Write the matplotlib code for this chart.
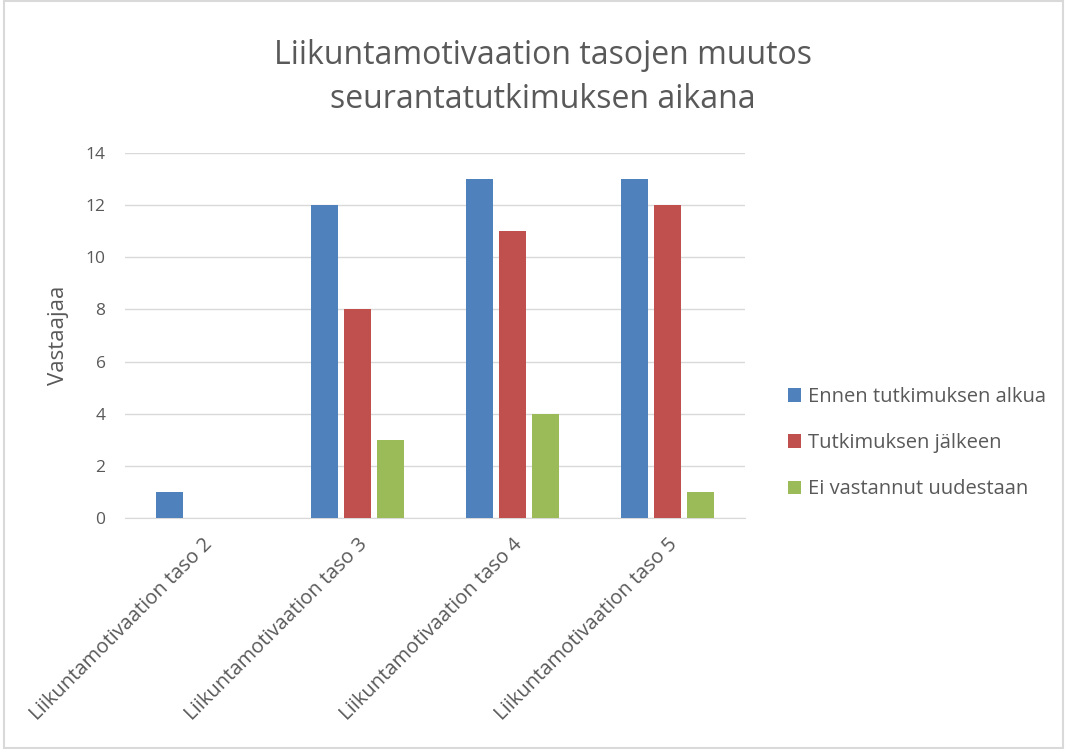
import matplotlib
matplotlib.use("Agg")
import matplotlib.pyplot as plt
import numpy as np
from matplotlib.patches import Rectangle

categories = ["Liikuntamotivaation taso 2", "Liikuntamotivaation taso 3",
              "Liikuntamotivaation taso 4", "Liikuntamotivaation taso 5"]
series_names = ["Ennen tutkimuksen alkua", "Tutkimuksen jälkeen", "Ei vastannut uudestaan"]
before = [1, 12, 13, 13]
after = [0, 8, 11, 12]
no_answer = [0, 3, 4, 1]
colors = ["#4F81BD", "#C0504D", "#9BBB59"]
yticks = [0, 2, 4, 6, 8, 10, 12, 14]

plt.rcParams['font.family'] = ['Open Sans', 'DejaVu Sans']
fig = plt.figure(figsize=(10.65, 7.49), dpi=100)
fig.patches.append(Rectangle((0.004, 0.002), 0.994, 0.996, transform=fig.transFigure,
                             fill=False, edgecolor="#D9D9D9", linewidth=1.5))
ax = fig.add_axes([0.1174, 0.3084, 0.582, 0.4873])

x = np.arange(len(categories))
w = 0.175
step = 0.215
for i, (vals, name, c) in enumerate(zip([before, after, no_answer], series_names, colors)):
    ax.bar(x + (i - 1) * step, vals, width=w, color=c, label=name, zorder=3)

ax.set_xlim(-0.5, len(categories) - 0.5)
ax.set_ylim(0, 14)
ax.set_yticks(yticks)
ax.grid(axis='y', color="#D9D9D9", linewidth=1, zorder=0)
for s in ["top", "right", "left"]:
    ax.spines[s].set_visible(False)
ax.spines["bottom"].set_color("#D9D9D9")
ax.tick_params(axis='both', length=0, labelcolor="#595959")
ax.tick_params(axis='y', pad=14, labelsize=12.5)
ax.set_xticks(x)
ax.set_xticklabels(categories, rotation=45, ha='right', rotation_mode='anchor', fontsize=14.5)
ax.tick_params(axis='x', pad=12)
ax.set_ylabel("Vastaajaa", fontsize=16, color="#595959", labelpad=12)

fig.text(0.51, 0.8965, "Liikuntamotivaation tasojen muutos\nseurantatutkimuksen aikana",
         ha='center', va='center', fontsize=23, color="#595959", linespacing=1.45)

leg = ax.legend(loc='center left', bbox_to_anchor=(1.04, 0.205), frameon=False,
                fontsize=14.5, labelcolor="#595959", handlelength=0.65, handleheight=0.65,
                labelspacing=1.3, handletextpad=0.35)

fig.savefig("out.png", dpi=100)
